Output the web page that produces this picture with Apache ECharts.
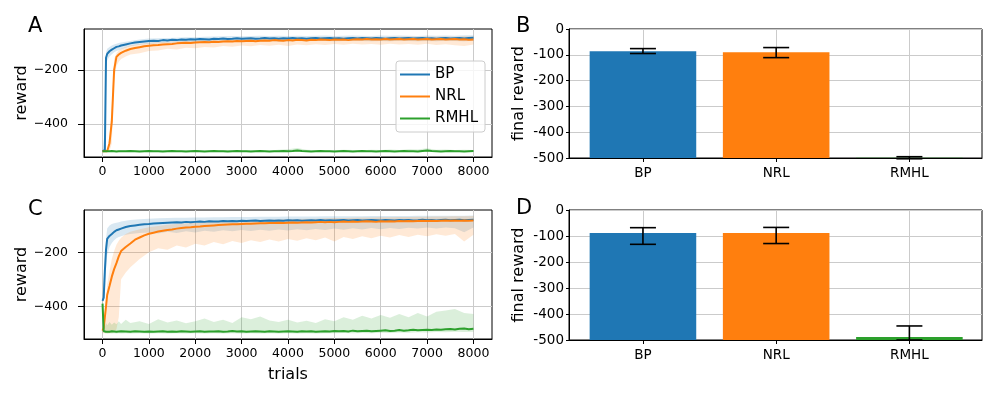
<!DOCTYPE html>
<html><head><meta charset="utf-8">
<script src="https://cdn.jsdelivr.net/npm/echarts@6/dist/echarts.min.js"></script>
<style>html,body{margin:0;padding:0;background:#fff}#c{width:996px;height:399px}</style>
</head><body><div id="c"></div>
<script>
// ---------------- data ----------------
const seriesNames = ['BP', 'NRL', 'RMHL'];
const xTicks = [0, 1000, 2000, 3000, 4000, 5000, 6000, 7000, 8000];
const yTicksLine = [-400, -200];
const barCats = ['BP', 'NRL', 'RMHL'];

const trialsLine = [0,25,50,75,100,150,200,250,300,350,400,
  500,600,700,800,900,1000,
  1100,1200,1300,1400,1500,1600,1700,1800,1900,2000,
  2100,2200,2300,2400,2500,2600,2700,2800,2900,3000,
  3100,3200,3300,3400,3500,3600,3700,3800,3900,4000,
  4100,4200,4300,4400,4500,4600,4700,4800,4900,5000,
  5100,5200,5300,5400,5500,5600,5700,5800,5900,6000,
  6100,6200,6300,6400,6500,6600,6700,6800,6900,7000,
  7100,7200,7300,7400,7500,7600,7700,7800,7900,8000];

const trialsBand = [0,50,75,100,150,200,250,300,350,400,500,600,800,
  1000,1200,1400,1600,1800,2000,2200,2400,2600,2800,3000,3200,3400,3600,3800,4000,
  4200,4400,4600,4800,5000,5200,5400,5600,5800,6000,6200,6400,6600,6800,7000,
  7200,7400,7600,7800,8000];

// Panel A mean curves
const aBP = [-500,-500,-495,-155,-141,-131,-125,-120,-115,-113,-110,
  -106,-102,-99,-97,-95,-93,
  -92,-93,-90,-91,-89,-90,-88,-89,-87,-88,
  -86,-87,-88,-85,-86,-84,-86,-85,-83,-85,
  -84,-83,-85,-84,-82,-84,-83,-85,-83,-84,
  -82,-84,-83,-85,-83,-82,-84,-83,-82,-84,
  -83,-85,-83,-82,-84,-82,-83,-84,-82,-83,
  -85,-83,-82,-84,-83,-82,-84,-83,-82,-84,
  -83,-85,-83,-82,-84,-83,-82,-84,-82,-81];
const aNRL = [-500,-500,-500,-500,-500,-470,-390,-200,-152,-143,-137,
  -129,-123,-119,-116,-113,-111,
  -109,-108,-106,-105,-104,-102,-101,-100,-101,-99,
  -98,-97,-98,-96,-97,-95,-94,-95,-93,-94,
  -93,-92,-94,-92,-91,-92,-90,-91,-92,-90,
  -91,-89,-90,-91,-89,-90,-88,-89,-90,-88,
  -89,-88,-90,-88,-87,-88,-86,-88,-87,-88,
  -86,-88,-87,-86,-88,-87,-86,-88,-87,-86,
  -88,-87,-86,-88,-87,-86,-88,-87,-89,-88];
const aRMHL = [-500,-500,-500,-501,-500,-500,-499,-500,-501,-500,-500,
  -500,-499,-500,-501,-500,-499,
  -500,-500,-501,-500,-499,-500,-500,-501,-500,-499,
  -500,-501,-500,-499,-500,-500,-501,-500,-499,-500,
  -500,-501,-500,-499,-500,-501,-500,-500,-499,-500,
  -499,-497,-499,-500,-501,-500,-499,-500,-500,-501,
  -500,-499,-500,-501,-500,-499,-500,-500,-501,-500,
  -499,-500,-501,-500,-499,-500,-500,-501,-499,-497,
  -499,-500,-501,-500,-499,-500,-500,-501,-500,-499];

// Panel A shaded bands
const aBPLow = [-500,-500,-190,-165,-150,-142,-135,-130,-127,-124,-118,-113,-107,
  -104,-102,-100,-99,-98,-97,-96,-95,-94,-95,-94,-93,-94,-93,-95,-94,
  -93,-94,-92,-93,-94,-93,-92,-93,-94,-93,-94,-92,-93,-94,-93,
  -94,-92,-93,-94,-92];
const aBPHigh = [-500,-420,-135,-122,-115,-110,-106,-103,-101,-99,-96,-93,-88,
  -84,-83,-82,-81,-79,-79,-78,-77,-76,-75,-76,-75,-74,-75,-74,-75,
  -74,-75,-74,-73,-75,-74,-73,-74,-75,-73,-74,-73,-74,-75,-73,
  -74,-73,-74,-72,-72];
const aNRLLow = [-500,-500,-500,-500,-500,-470,-240,-185,-170,-160,-150,-143,-138,
  -130,-128,-122,-125,-118,-120,-115,-117,-112,-114,-110,-113,-108,-111,-107,-112,
  -106,-109,-105,-108,-104,-107,-103,-106,-104,-107,-103,-106,-104,-107,-103,
  -108,-105,-109,-112,-106];
const aNRLHigh = [-500,-500,-500,-498,-450,-330,-160,-138,-128,-122,-115,-110,-104,
  -100,-98,-96,-94,-92,-91,-90,-89,-88,-87,-86,-86,-85,-84,-84,-83,
  -82,-82,-81,-81,-80,-80,-79,-79,-78,-79,-78,-78,-77,-78,-77,
  -78,-77,-78,-76,-77];
const aRMHLLow = [-501,-502,-502,-503,-502,-503,-502,-503,-502,-503,-502,-503,-502,
  -503,-502,-503,-502,-503,-502,-503,-502,-503,-502,-503,-502,-503,-502,-503,-502,
  -503,-502,-503,-502,-503,-502,-503,-502,-503,-502,-503,-502,-503,-502,-503,
  -502,-503,-502,-503,-502];
const aRMHLHigh = [-499,-498,-498,-497,-498,-497,-497,-498,-497,-496,-497,-495,-496,
  -497,-496,-495,-497,-496,-495,-497,-496,-495,-496,-497,-495,-496,-497,-494,-492,
  -488,-494,-496,-495,-496,-494,-495,-496,-494,-495,-493,-495,-492,-493,-489,
  -494,-493,-495,-494,-495];

// Panel C mean curves
const cBP = [-380,-368,-270,-190,-150,-139,-132,-124,-118,-115,-112,
  -106,-102,-100,-98,-96,-95,
  -93,-92,-91,-90,-89,-88,-89,-87,-88,-87,
  -86,-87,-85,-86,-86,-84,-85,-84,-85,-83,
  -84,-83,-82,-84,-83,-82,-83,-82,-83,-81,
  -82,-81,-83,-82,-81,-82,-80,-82,-81,-82,
  -81,-80,-82,-81,-80,-82,-81,-80,-81,-82,
  -80,-81,-82,-80,-81,-80,-82,-81,-79,-81,
  -80,-82,-80,-79,-81,-80,-79,-81,-80,-79];
const cNRL = [-490,-480,-440,-400,-358,-325,-290,-262,-240,-215,-195,
  -180,-167,-153,-145,-137,-131,
  -127,-123,-120,-117,-115,-112,-110,-108,-107,-105,
  -104,-102,-101,-100,-99,-98,-97,-96,-96,-95,
  -94,-94,-93,-92,-92,-91,-91,-90,-91,-90,
  -89,-90,-89,-88,-89,-88,-87,-88,-87,-88,
  -87,-86,-87,-86,-87,-86,-85,-86,-87,-85,
  -86,-85,-86,-84,-85,-84,-85,-84,-83,-84,
  -83,-84,-83,-82,-83,-82,-83,-82,-83,-82];
const cRMHL = [-390,-492,-493,-494,-493,-494,-492,-493,-494,-493,-492,
  -493,-494,-492,-493,-494,-493,
  -494,-493,-492,-494,-493,-494,-492,-493,-494,-493,
  -492,-494,-493,-493,-492,-494,-493,-491,-493,-492,
  -494,-493,-492,-493,-494,-492,-493,-494,-493,-492,
  -493,-494,-492,-493,-492,-494,-493,-492,-493,-491,
  -492,-491,-493,-490,-492,-491,-490,-492,-491,-490,
  -489,-491,-490,-488,-490,-489,-487,-489,-488,-487,
  -488,-486,-487,-485,-484,-486,-483,-482,-485,-483];

// Panel C shaded bands
const cBPLow = [-395,-340,-260,-210,-180,-165,-155,-148,-143,-140,-135,-132,-128,
  -126,-130,-124,-128,-122,-126,-120,-124,-118,-122,-117,-121,-116,-120,-115,-119,
  -114,-118,-113,-117,-112,-116,-111,-115,-110,-114,-110,-113,-109,-112,-108,
  -112,-108,-111,-125,-108];
const cBPHigh = [-365,-220,-150,-112,-100,-95,-92,-90,-88,-86,-83,-80,-77,
  -75,-74,-73,-72,-72,-71,-71,-70,-70,-69,-69,-69,-68,-68,-68,-67,
  -67,-67,-67,-66,-66,-66,-66,-66,-65,-65,-65,-65,-65,-64,-64,
  -64,-64,-64,-64,-63];
const cNRLLow = [-500,-500,-500,-500,-500,-498,-495,-485,-440,-300,-275,-255,-225,
  -200,-185,-190,-175,-182,-168,-175,-162,-170,-158,-165,-155,-162,-152,-160,-150,
  -157,-148,-155,-145,-160,-143,-150,-140,-148,-138,-145,-136,-143,-135,-140,
  -133,-138,-132,-160,-135];
const cNRLHigh = [-480,-420,-370,-320,-270,-225,-195,-172,-157,-146,-132,-124,-114,
  -107,-102,-98,-95,-92,-90,-88,-86,-85,-83,-82,-81,-80,-79,-78,-77,
  -76,-75,-75,-74,-73,-73,-72,-71,-71,-70,-70,-69,-69,-68,-68,
  -67,-67,-66,-66,-65];
const cRMHLLow = [-395,-500,-500,-501,-500,-501,-500,-501,-500,-501,-500,-501,-500,
  -501,-500,-501,-500,-501,-500,-501,-500,-501,-500,-501,-500,-501,-500,-501,-500,
  -501,-500,-501,-500,-500,-499,-500,-499,-500,-498,-499,-497,-498,-496,-497,
  -495,-496,-494,-495,-494];
const cRMHLHigh = [-380,-475,-462,-470,-458,-468,-460,-466,-455,-465,-450,-462,-455,
  -465,-448,-460,-452,-463,-455,-445,-458,-450,-462,-440,-448,-438,-452,-458,-450,
  -460,-453,-462,-448,-455,-440,-450,-435,-445,-432,-442,-428,-440,-425,-438,
  -420,-415,-410,-425,-428];

// Panel B / D final rewards with error bar ends
const finalB = [-86, -90, -499];
const errLowB = [-95, -111, -503];
const errHighB = [-76, -72, -495];
const finalD = [-88, -88, -488];
const errLowD = [-132, -129, -500];
const errHighD = [-68, -67, -446];

// ---------------- styling ----------------
const COLORS = ['#1f77b4', '#ff7f0e', '#2ca02c'];
const FONT = 'DejaVu Sans';
const GRID_C = '#cbcbcb';
const minusFmt = v => (v < 0 ? '\u2212' + Math.abs(v) : String(v));

function lineXAxis(gi) {
  return {
    type: 'value', gridIndex: gi, min: -400, max: 8400,
    axisLine: { show: true, onZero: false, lineStyle: { color: '#000', width: 1 } },
    axisTick: { show: true, customValues: xTicks, length: 5, lineStyle: { color: '#000', width: 1 } },
    axisLabel: { customValues: xTicks, formatter: v => String(v), color: '#000', fontSize: 12.5, fontFamily: FONT, margin: 8 },
    splitLine: { show: true, lineStyle: { color: GRID_C, width: 1 } }
  };
}
function lineYAxis(gi, min, max) {
  return {
    type: 'value', gridIndex: gi, min: min, max: max,
    name: 'reward', nameLocation: 'middle', nameGap: 53, nameRotate: 90,
    nameTextStyle: { fontSize: 16, fontFamily: FONT, color: '#000' },
    axisLine: { show: true, onZero: false, lineStyle: { color: '#000', width: 1 } },
    axisTick: { show: true, customValues: yTicksLine, length: 6, lineStyle: { color: '#000', width: 1 } },
    axisLabel: { customValues: yTicksLine, formatter: minusFmt, color: '#000', fontSize: 12.5, fontFamily: FONT, margin: 16 },
    splitLine: { show: true, lineStyle: { color: GRID_C, width: 1 } }
  };
}
function barXAxis(gi) {
  return {
    type: 'value', gridIndex: gi, min: -0.555, max: 2.545,
    axisLine: { show: true, onZero: false, lineStyle: { color: '#000', width: 1 } },
    axisTick: { show: true, customValues: [0, 1, 2], length: 4, lineStyle: { color: '#000', width: 1 } },
    axisLabel: { customValues: [0, 1, 2], formatter: v => barCats[Math.round(v)], color: '#000', fontSize: 13.5, fontFamily: FONT, margin: 8 },
    splitLine: { show: true, lineStyle: { color: GRID_C, width: 1 } }
  };
}
function barYAxis(gi) {
  return {
    type: 'value', gridIndex: gi, min: -500, max: 0, interval: 100,
    name: 'final reward', nameLocation: 'middle', nameGap: 42, nameRotate: 90,
    nameTextStyle: { fontSize: 16, fontFamily: FONT, color: '#000' },
    axisLine: { show: true, onZero: false, lineStyle: { color: '#000', width: 1 } },
    axisTick: { show: true, length: 3, lineStyle: { color: '#000', width: 1 } },
    axisLabel: { formatter: v => String(v), color: '#000', fontSize: 13.5, fontFamily: FONT, margin: 5 },
    splitLine: { show: true, lineStyle: { color: GRID_C, width: 1 } }
  };
}

function bandSeries(gi, lo, hi, color) {
  return {
    type: 'custom', xAxisIndex: gi, yAxisIndex: gi, silent: true, z: 1,
    data: [[trialsBand[0], lo[0]]], encode: { x: 0, y: 1 },
    renderItem: (params, api) => {
      const pts = [];
      for (let i = 0; i < trialsBand.length; i++) pts.push(api.coord([trialsBand[i], hi[i]]));
      for (let i = trialsBand.length - 1; i >= 0; i--) pts.push(api.coord([trialsBand[i], lo[i]]));
      return { type: 'polygon', shape: { points: pts }, style: { fill: color, opacity: 0.17 } };
    }
  };
}
function lineSeries(gi, name, ys, color, z) {
  return {
    type: 'line', name: name, xAxisIndex: gi, yAxisIndex: gi, symbol: 'none', showSymbol: false,
    z: z, silent: true, color: color,
    lineStyle: { color: color, width: 2 },
    data: trialsLine.map((t, i) => [t, ys[i]])
  };
}
function barSeries(gi, vals) {
  return {
    type: 'custom', xAxisIndex: gi, yAxisIndex: gi, silent: true, z: 2,
    data: vals.map((v, i) => [i, v]), encode: { x: 0, y: 1 },
    renderItem: (params, api) => {
      const i = api.value(0), v = api.value(1);
      const p1 = api.coord([i - 0.4, v]);
      const p2 = api.coord([i + 0.4, -500]);
      return { type: 'rect', shape: { x: p1[0], y: p1[1], width: p2[0] - p1[0], height: p2[1] - p1[1] },
        style: { fill: COLORS[params.dataIndex] } };
    }
  };
}
function errSeries(gi, lo, hi) {
  return {
    type: 'custom', xAxisIndex: gi, yAxisIndex: gi, silent: true, z: 3,
    data: lo.map((l, i) => [i, l, hi[i]]), encode: { x: 0, y: [1, 2] },
    renderItem: (params, api) => {
      const i = api.value(0);
      const a = api.coord([i, api.value(1)]);
      const b = api.coord([i, api.value(2)]);
      const w = 13;
      const st = { stroke: '#000', lineWidth: 1.6 };
      return { type: 'group', children: [
        { type: 'line', shape: { x1: a[0], y1: a[1], x2: b[0], y2: b[1] }, style: st },
        { type: 'line', shape: { x1: a[0] - w, y1: a[1], x2: a[0] + w, y2: a[1] }, style: st },
        { type: 'line', shape: { x1: b[0] - w, y1: b[1], x2: b[0] + w, y2: b[1] }, style: st }
      ] };
    }
  };
}

const letterStyle = { fontSize: 21, fontWeight: 'normal', fontFamily: FONT, color: '#000' };
const frame = { show: true, borderColor: '#000', borderWidth: 1, backgroundColor: 'transparent' };

const option = {
  animation: false,
  textStyle: { fontFamily: FONT },
  title: [
    { text: 'A', left: 28, top: 16, padding: 0, textStyle: letterStyle },
    { text: 'B', left: 516, top: 16, padding: 0, textStyle: letterStyle },
    { text: 'C', left: 28, top: 199, padding: 0, textStyle: letterStyle },
    { text: 'D', left: 516, top: 198, padding: 0, textStyle: letterStyle }
  ],
  legend: {
    data: seriesNames, orient: 'vertical', left: 396, top: 61, selectedMode: false,
    icon: 'rect', padding: [5, 7, 5, 4], itemWidth: 30, itemHeight: 2, itemGap: 5,
    backgroundColor: 'rgba(255,255,255,0.8)', borderColor: '#cccccc', borderWidth: 1, borderRadius: 3,
    textStyle: { fontSize: 15, fontFamily: FONT, color: '#000', lineHeight: 17 }
  },
  grid: [
    Object.assign({ left: 84, top: 29, width: 408, height: 128 }, frame),
    Object.assign({ left: 569, top: 29, width: 413, height: 129 }, frame),
    Object.assign({ left: 84, top: 210, width: 408, height: 129 }, frame),
    Object.assign({ left: 569, top: 210, width: 413, height: 130 }, frame)
  ],
  xAxis: [
    lineXAxis(0), barXAxis(1),
    Object.assign(lineXAxis(2), { name: 'trials', nameLocation: 'middle', nameGap: 28,
      nameTextStyle: { fontSize: 16, fontFamily: FONT, color: '#000' } }),
    barXAxis(3)
  ],
  yAxis: [lineYAxis(0, -521, -49), barYAxis(1), lineYAxis(2, -521, -43), barYAxis(3)],
  series: [
    bandSeries(0, aBPLow, aBPHigh, COLORS[0]),
    bandSeries(0, aNRLLow, aNRLHigh, COLORS[1]),
    bandSeries(0, aRMHLLow, aRMHLHigh, COLORS[2]),
    lineSeries(0, 'BP', aBP, COLORS[0], 3),
    lineSeries(0, 'NRL', aNRL, COLORS[1], 4),
    lineSeries(0, 'RMHL', aRMHL, COLORS[2], 5),
    bandSeries(2, cBPLow, cBPHigh, COLORS[0]),
    bandSeries(2, cNRLLow, cNRLHigh, COLORS[1]),
    bandSeries(2, cRMHLLow, cRMHLHigh, COLORS[2]),
    lineSeries(2, 'BP', cBP, COLORS[0], 3),
    lineSeries(2, 'NRL', cNRL, COLORS[1], 4),
    lineSeries(2, 'RMHL', cRMHL, COLORS[2], 5),
    barSeries(1, finalB), errSeries(1, errLowB, errHighB),
    barSeries(3, finalD), errSeries(3, errLowD, errHighD)
  ]
};
const chart = echarts.init(document.getElementById('c'), null, { renderer: 'canvas' });
chart.setOption(option);
</script>
</body></html>
